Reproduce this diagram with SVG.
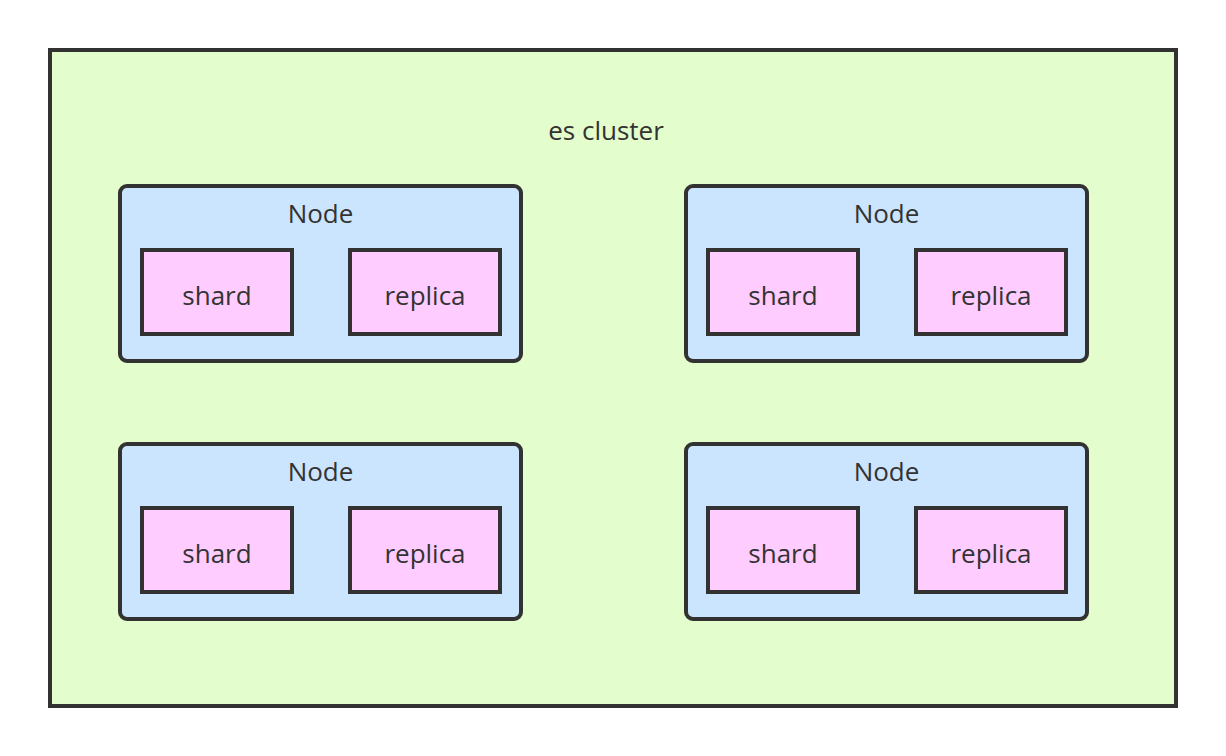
<svg xmlns="http://www.w3.org/2000/svg" width="1226" height="756" viewBox="0 0 1226 756">
  <style>
    .cluster { fill: #e4fdcc; stroke: #323232; stroke-width: 4; }
    .node { fill: #cce5ff; stroke: #323232; stroke-width: 4; }
    .part { fill: #ffccff; stroke: #323232; stroke-width: 4; }
    text { font-family: "Open Sans", "Noto Sans", sans-serif; font-size: 26px; fill: #333333; text-anchor: middle; }
  </style>
  <rect width="1226" height="756" fill="#ffffff"/>
  <g id="cluster">
    <rect class="cluster" x="50" y="50" width="1126" height="656"/>
    <text x="606" y="140">es cluster</text>
  </g>
  <g id="node1" transform="translate(0,0)">
    <rect class="node" x="120" y="186" width="401" height="175" rx="7"/>
    <text x="320.5" y="223">Node</text>
    <rect class="part" x="142" y="250" width="150" height="84"/>
    <text x="217" y="305">shard</text>
    <rect class="part" x="350" y="250" width="150" height="84"/>
    <text x="425" y="305">replica</text>
  </g>
  <g id="node2" transform="translate(566,0)">
    <rect class="node" x="120" y="186" width="401" height="175" rx="7"/>
    <text x="320.5" y="223">Node</text>
    <rect class="part" x="142" y="250" width="150" height="84"/>
    <text x="217" y="305">shard</text>
    <rect class="part" x="350" y="250" width="150" height="84"/>
    <text x="425" y="305">replica</text>
  </g>
  <g id="node3" transform="translate(0,258)">
    <rect class="node" x="120" y="186" width="401" height="175" rx="7"/>
    <text x="320.5" y="223">Node</text>
    <rect class="part" x="142" y="250" width="150" height="84"/>
    <text x="217" y="305">shard</text>
    <rect class="part" x="350" y="250" width="150" height="84"/>
    <text x="425" y="305">replica</text>
  </g>
  <g id="node4" transform="translate(566,258)">
    <rect class="node" x="120" y="186" width="401" height="175" rx="7"/>
    <text x="320.5" y="223">Node</text>
    <rect class="part" x="142" y="250" width="150" height="84"/>
    <text x="217" y="305">shard</text>
    <rect class="part" x="350" y="250" width="150" height="84"/>
    <text x="425" y="305">replica</text>
  </g>
  <g id="connectors"/>
</svg>
